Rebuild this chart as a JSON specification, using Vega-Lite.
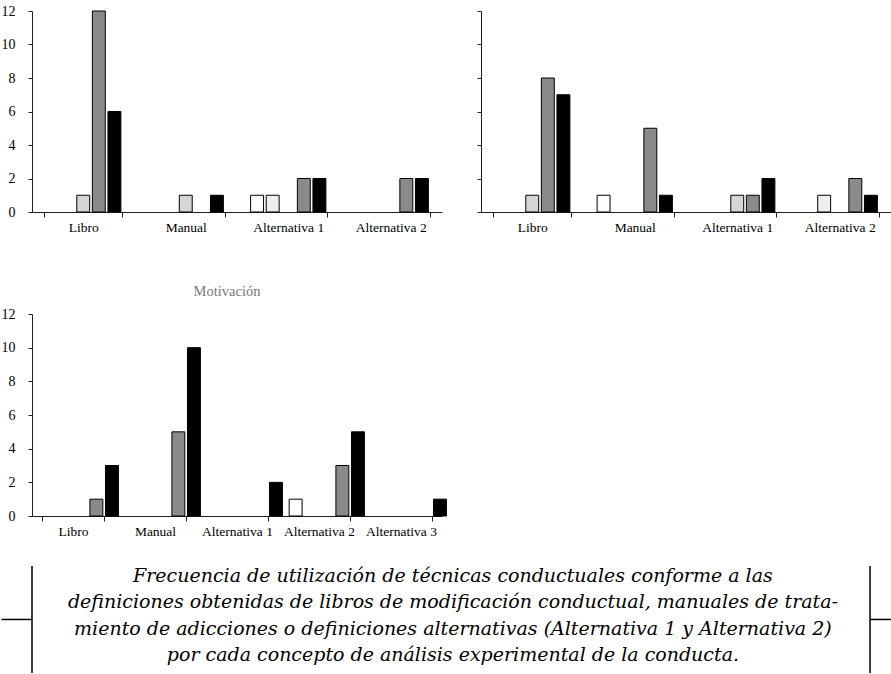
{
  "$schema": "https://vega.github.io/schema/vega-lite/v6.json",
  "padding": {"top": 4, "left": 0, "right": 0, "bottom": 0},
  "autosize": {"type": "pad"},
  "background": "white",
  "config": {
    "view": {"stroke": null},
    "font": "Liberation Serif",
    "axis": {"grid": false, "domainColor": "#222", "tickColor": "#222", "labelColor": "black", "labelFont": "Liberation Serif", "title": null},
    "bar": {"stroke": "black", "strokeWidth": 1}
  },
  "datasets": {
    "barras": [
      {"grafico": "A", "categoria": "Libro", "serie": "Serie 3", "valor": 1},
      {"grafico": "A", "categoria": "Libro", "serie": "Serie 4", "valor": 12},
      {"grafico": "A", "categoria": "Libro", "serie": "Serie 5", "valor": 6},
      {"grafico": "A", "categoria": "Manual", "serie": "Serie 3", "valor": 1},
      {"grafico": "A", "categoria": "Manual", "serie": "Serie 5", "valor": 1},
      {"grafico": "A", "categoria": "Alternativa 1", "serie": "Serie 1", "valor": 1},
      {"grafico": "A", "categoria": "Alternativa 1", "serie": "Serie 2", "valor": 1},
      {"grafico": "A", "categoria": "Alternativa 1", "serie": "Serie 4", "valor": 2},
      {"grafico": "A", "categoria": "Alternativa 1", "serie": "Serie 5", "valor": 2},
      {"grafico": "A", "categoria": "Alternativa 2", "serie": "Serie 4", "valor": 2},
      {"grafico": "A", "categoria": "Alternativa 2", "serie": "Serie 5", "valor": 2},
      {"grafico": "B", "categoria": "Libro", "serie": "Serie 3", "valor": 1},
      {"grafico": "B", "categoria": "Libro", "serie": "Serie 4", "valor": 8},
      {"grafico": "B", "categoria": "Libro", "serie": "Serie 5", "valor": 7},
      {"grafico": "B", "categoria": "Manual", "serie": "Serie 1", "valor": 1},
      {"grafico": "B", "categoria": "Manual", "serie": "Serie 4", "valor": 5},
      {"grafico": "B", "categoria": "Manual", "serie": "Serie 5", "valor": 1},
      {"grafico": "B", "categoria": "Alternativa 1", "serie": "Serie 3", "valor": 1},
      {"grafico": "B", "categoria": "Alternativa 1", "serie": "Serie 4", "valor": 1},
      {"grafico": "B", "categoria": "Alternativa 1", "serie": "Serie 5", "valor": 2},
      {"grafico": "B", "categoria": "Alternativa 2", "serie": "Serie 2", "valor": 1},
      {"grafico": "B", "categoria": "Alternativa 2", "serie": "Serie 4", "valor": 2},
      {"grafico": "B", "categoria": "Alternativa 2", "serie": "Serie 5", "valor": 1},
      {"grafico": "Motivación", "categoria": "Libro", "serie": "Serie 4", "valor": 1},
      {"grafico": "Motivación", "categoria": "Libro", "serie": "Serie 5", "valor": 3},
      {"grafico": "Motivación", "categoria": "Manual", "serie": "Serie 4", "valor": 5},
      {"grafico": "Motivación", "categoria": "Manual", "serie": "Serie 5", "valor": 10},
      {"grafico": "Motivación", "categoria": "Alternativa 1", "serie": "Serie 5", "valor": 2},
      {"grafico": "Motivación", "categoria": "Alternativa 2", "serie": "Serie 1", "valor": 1},
      {"grafico": "Motivación", "categoria": "Alternativa 2", "serie": "Serie 4", "valor": 3},
      {"grafico": "Motivación", "categoria": "Alternativa 2", "serie": "Serie 5", "valor": 5},
      {"grafico": "Motivación", "categoria": "Alternativa 3", "serie": "Serie 5", "valor": 1}
    ],
    "lineas": [
      {"linea": 1, "x": 0.49, "y": 0.1875, "texto": "Frecuencia de utilización de técnicas conductuales conforme a las"},
      {"linea": 2, "x": 0.49, "y": 0.42, "texto": "definiciones obtenidas de libros de modificación conductual, manuales de trata-"},
      {"linea": 3, "x": 0.49, "y": 0.66, "texto": "miento de adicciones o definiciones alternativas (Alternativa 1 y Alternativa 2)"},
      {"linea": 4, "x": 0.49, "y": 0.893, "texto": "por cada concepto de análisis experimental de la conducta."}
    ],
    "marco": [
      {"x": 0.0, "x2": 0.0, "y": 0.045, "y2": 1},
      {"x": -0.0355, "x2": 0.0, "y": 0.522, "y2": 0.522},
      {"x": 0.9756, "x2": 0.9756, "y": 0.045, "y2": 1},
      {"x": 0.9756, "x2": 1.0, "y": 0.522, "y2": 0.522}
    ]
  },
  "vconcat": [
    {
      "vconcat": [
        {
          "hconcat": [
            {
              "width": 410, "height": 201,
              "data": {"name": "barras"},
              "transform": [{"filter": "datum.grafico === 'A'"}],
              "mark": {"type": "bar"},
              "encoding": {
                "x": {"field": "categoria", "type": "nominal", "scale": {"domain": ["Libro", "Manual", "Alternativa 1", "Alternativa 2"], "paddingInner": 0.24, "paddingOuter": 0.12}, "axis": {"labelAngle": 0, "tickBand": "extent", "tickSize": 5, "labelPadding": 3, "labelFontSize": 13.5}},
                "xOffset": {"field": "serie", "type": "nominal", "scale": {"domain": ["Serie 1", "Serie 2", "Serie 3", "Serie 4", "Serie 5"], "paddingInner": 0.17, "paddingOuter": 0.085}},
                "y": {"field": "valor", "type": "quantitative", "scale": {"domain": [0, 12], "nice": false}, "axis": {"values": [0, 2, 4, 6, 8, 10, 12], "tickSize": 4, "labelPadding": 13, "labelFontSize": 14}},
                "color": {"field": "serie", "type": "nominal", "scale": {"domain": ["Serie 1", "Serie 2", "Serie 3", "Serie 4", "Serie 5"], "range": ["#ffffff", "#eeeeee", "#d6d6d6", "#8a8a8a", "#000000"]}, "legend": null}
              }
            },
            {
              "width": 410, "height": 201,
              "data": {"name": "barras"},
              "transform": [{"filter": "datum.grafico === 'B'"}],
              "mark": {"type": "bar"},
              "encoding": {
                "x": {"field": "categoria", "type": "nominal", "scale": {"domain": ["Libro", "Manual", "Alternativa 1", "Alternativa 2"], "paddingInner": 0.24, "paddingOuter": 0.12}, "axis": {"labelAngle": 0, "tickBand": "extent", "tickSize": 5, "labelPadding": 3, "labelFontSize": 13.5}},
                "xOffset": {"field": "serie", "type": "nominal", "scale": {"domain": ["Serie 1", "Serie 2", "Serie 3", "Serie 4", "Serie 5"], "paddingInner": 0.17, "paddingOuter": 0.085}},
                "y": {"field": "valor", "type": "quantitative", "scale": {"domain": [0, 12], "nice": false}, "axis": {"values": [0, 2, 4, 6, 8, 10, 12], "tickSize": 4, "labels": false}},
                "color": {"field": "serie", "type": "nominal", "scale": {"domain": ["Serie 1", "Serie 2", "Serie 3", "Serie 4", "Serie 5"], "range": ["#ffffff", "#eeeeee", "#d6d6d6", "#8a8a8a", "#000000"]}, "legend": null}
              }
            }
          ],
          "spacing": 34
        },
        {
          "width": 410, "height": 202,
          "title": {"text": "Motivación", "fontSize": 14.5, "font": "Liberation Serif", "fontWeight": "normal", "color": "#7a7a7a", "anchor": "middle", "offset": -3, "baseline": "alphabetic", "dx": -10},
          "data": {"name": "barras"},
          "transform": [{"filter": "datum.grafico === 'Motivación'"}],
          "mark": {"type": "bar"},
          "encoding": {
            "x": {"field": "categoria", "type": "nominal", "scale": {"domain": ["Libro", "Manual", "Alternativa 1", "Alternativa 2", "Alternativa 3"], "paddingInner": 0.24, "paddingOuter": 0.12}, "axis": {"labelAngle": 0, "tickBand": "extent", "tickSize": 5, "labelPadding": 3, "labelFontSize": 13.5}},
            "xOffset": {"field": "serie", "type": "nominal", "scale": {"domain": ["Serie 1", "Serie 2", "Serie 3", "Serie 4", "Serie 5"], "paddingInner": 0.17, "paddingOuter": 0.085}},
            "y": {"field": "valor", "type": "quantitative", "scale": {"domain": [0, 12], "nice": false}, "axis": {"values": [0, 2, 4, 6, 8, 10, 12], "tickSize": 4, "labelPadding": 13, "labelFontSize": 14}},
            "color": {"field": "serie", "type": "nominal", "scale": {"domain": ["Serie 1", "Serie 2", "Serie 3", "Serie 4", "Serie 5"], "range": ["#ffffff", "#eeeeee", "#d6d6d6", "#8a8a8a", "#000000"]}, "legend": null}
          }
        }
      ],
      "spacing": 49
    },
    {
      "width": 859, "height": 112,
      "layer": [
        {
          "data": {"name": "lineas"},
          "mark": {"type": "text", "font": "DejaVu Serif", "fontStyle": "italic", "fontSize": 19, "align": "center", "baseline": "alphabetic", "color": "black"},
          "encoding": {
            "x": {"field": "x", "type": "quantitative", "scale": {"domain": [0, 1], "nice": false, "zero": false}, "axis": null},
            "y": {"field": "y", "type": "quantitative", "scale": {"domain": [0, 1], "nice": false, "zero": false, "reverse": true}, "axis": null},
            "text": {"field": "texto", "type": "nominal"}
          }
        },
        {
          "data": {"name": "marco"},
          "mark": {"type": "rule", "color": "black", "strokeWidth": 1.5},
          "encoding": {
            "x": {"field": "x", "type": "quantitative", "axis": null},
            "x2": {"field": "x2"},
            "y": {"field": "y", "type": "quantitative", "axis": null},
            "y2": {"field": "y2"}
          }
        }
      ]
    }
  ],
  "spacing": 23
}
